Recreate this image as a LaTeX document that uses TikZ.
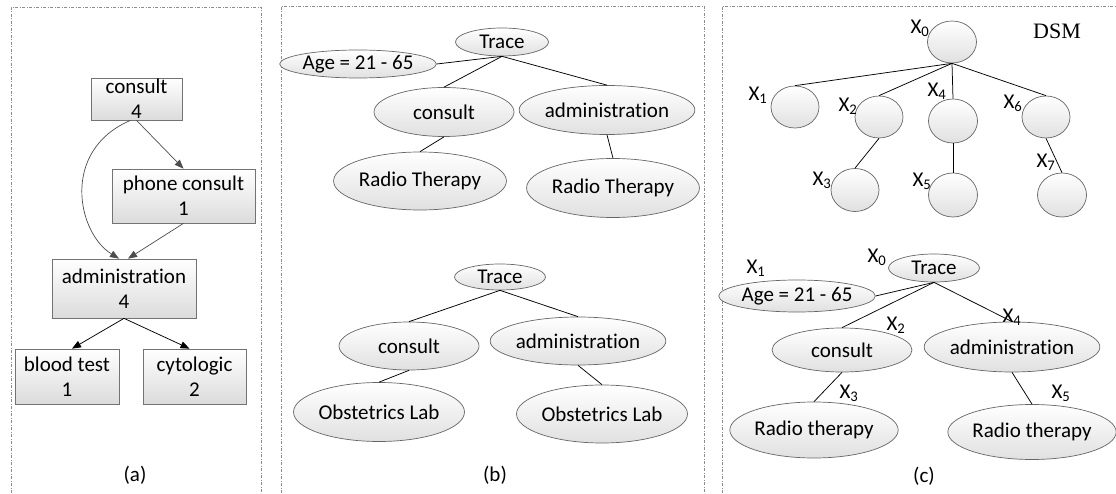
\documentclass[tikz,border=0pt]{standalone}
\usepackage{fontspec}
\setmainfont[Ligatures=CommonOff]{Carlito}
\newfontfamily\dsmfont{Liberation Serif}
\usetikzlibrary{shapes.geometric,arrows.meta,calc}

\tikzset{
  txt/.style={font=\fontsize{21}{25}\selectfont},
  panel/.style={draw=black!45, line width=0.6pt, dash pattern=on 3pt off 1.5pt on 1pt off 1.5pt},
  flowbox/.style={rectangle, draw=black!55, line width=0.7pt, top color=white, bottom color=black!14,
                  align=center, inner sep=0pt, txt},
  oval/.style={ellipse, draw=black!60, line width=0.7pt, top color=white, bottom color=black!12,
               inner sep=0pt, txt},
  link/.style={draw=black, line width=0.75pt},
  grayarrow/.style={draw=black!70, line width=0.7pt, -{Triangle[length=9pt,width=7pt]}, black!70},
  blackarrow/.style={draw=black, line width=0.75pt, -{Triangle[length=9pt,width=7pt]}},
  xlab/.style={font=\fontsize{21}{21}\selectfont, inner sep=0pt},
  caption/.style={font=\fontsize{21}{21}\selectfont, inner sep=0pt}
}

\begin{document}
\begin{tikzpicture}[x=1pt,y=-1pt]
\useasboundingbox (0,0) rectangle (1116,494);
\begin{scope}
\clip (0,0) rectangle (1116,494);
% panel frames
\draw[panel] (11,500) -- (11,7) -- (261,7) -- (261,500);
\draw[panel] (281,500) -- (281,6) -- (704,6) -- (704,500);
\draw[panel] (722,500) -- (722,6) -- (1120,6);
\end{scope}

% ---------------- (a) process graph ----------------
\node[flowbox, minimum width=91pt, minimum height=42pt] (ac) at (136.5,99) {consult\\4};
\node[flowbox, minimum width=143pt, minimum height=54pt] (ap) at (183.5,196) {phone consult\\1};
\node[flowbox, minimum width=144pt, minimum height=59pt] (aa) at (124,288.5) {administration\\4};
\node[flowbox, minimum width=104pt, minimum height=55pt] (ab) at (67,376.5) {blood test\\1};
\node[flowbox, minimum width=103pt, minimum height=55pt] (ay) at (194.5,376.5) {cytologic\\2};

\draw[grayarrow] (ac.south) -- (ap.north);
\draw[grayarrow] ([xshift=-6pt]ac.south) .. controls +(-70,30) and +(-42,-26) .. ([xshift=-5pt]aa.north);
\draw[grayarrow] (ap.south) -- ([xshift=4pt]aa.north);
\draw[blackarrow] (aa.south) -- ([xshift=5pt]ab.north);
\draw[blackarrow] (aa.south) -- ([xshift=-5pt]ay.north);

\node[caption] (capa) at (135,475) {(a)};

% ---------------- (b) upper trace ----------------
\node[oval, minimum width=93pt, minimum height=28pt] (bt) at (502,42) {Trace};
\node[oval, minimum width=153pt, minimum height=28pt] (bage) at (358,64) {Age = 21 - 65};
\node[oval, minimum width=140pt, minimum height=49pt] (bc) at (444,112) {consult};
\node[oval, minimum width=173pt, minimum height=49pt] (bad) at (607,110) {administration};
\node[oval, minimum width=172pt, minimum height=58pt] (br1) at (420,181) {Radio Therapy};
\node[oval, minimum width=168pt, minimum height=59pt] (br2) at (613,188) {Radio Therapy};

\draw[link] (bt.south) -- (bage.east);
\draw[link] (bt.south) -- (bc.north);
\draw[link] (bt.south) -- (bad.north);
\draw[link] (bc.south) -- (br1.north);
\draw[link] (bad.south) -- (br2.north);

% ---------------- (b) lower trace ----------------
\node[oval, minimum width=91pt, minimum height=26pt] (bt2) at (500,277) {Trace};
\node[oval, minimum width=140pt, minimum height=48pt] (bc2) at (409,346) {consult};
\node[oval, minimum width=172pt, minimum height=48pt] (bad2) at (578,341) {administration};
\node[oval, minimum width=158pt, minimum height=59pt] (bo1) at (379,412) {Obstetrics Lab};
\node[oval, minimum width=167pt, minimum height=58pt] (bo2) at (602,414) {Obstetrics Lab};

\draw[link] (bt2.south) -- (bc2.north);
\draw[link] (bt2.south) -- (bad2.north);
\draw[link] (bc2.south) -- (bo1.north);
\draw[link] (bad2.south) -- (bo2.north);

\node[caption] (capb) at (495,475) {(b)};

% ---------------- (c) DSM skeleton ----------------
\node[font=\dsmfont\fontsize{22}{22}\selectfont, inner sep=0pt] (dsm) at (1057,31) {DSM};

\node[oval, minimum width=49pt, minimum height=42pt] (x0) at (952,42) {};
\node[oval, minimum width=48pt, minimum height=42pt] (x1) at (795,107) {};
\node[oval, minimum width=48pt, minimum height=42pt] (x2) at (879,117) {};
\node[oval, minimum width=49pt, minimum height=44pt] (x4) at (953,121) {};
\node[oval, minimum width=48pt, minimum height=42pt] (x6) at (1046,117) {};
\node[oval, minimum width=48pt, minimum height=43pt] (x3) at (855,190) {};
\node[oval, minimum width=49pt, minimum height=44pt] (x5) at (953,195) {};
\node[oval, minimum width=49pt, minimum height=44pt] (x7) at (1062,195) {};

\draw[link] (x0.south) -- (x1.north);
\draw[link] (x0.south) -- (x2.north);
\draw[link] (x0.south) -- (x4.north);
\draw[link] (x0.south) -- (x6.north);
\draw[link] (x2.south) -- (x3.north);
\draw[link] (x4.south) -- (x5.north);
\draw[link] (x6.south) -- (x7.north);

\node[xlab] (lx0) at (920,28) {X\textsubscript{0}};
\node[xlab] (lx1) at (758,95) {X\textsubscript{1}};
\node[xlab] (lx2) at (848,106) {X\textsubscript{2}};
\node[xlab] (lx4) at (937,91) {X\textsubscript{4}};
\node[xlab] (lx6) at (1013,103) {X\textsubscript{6}};
\node[xlab] (lx3) at (822,180) {X\textsubscript{3}};
\node[xlab] (lx5) at (922,181) {X\textsubscript{5}};
\node[xlab] (lx7) at (1046,162) {X\textsubscript{7}};

% ---------------- (c) labelled trace ----------------
\node[oval, minimum width=91pt, minimum height=28pt] (ct) at (934,268) {Trace};
\node[oval, minimum width=152pt, minimum height=32pt] (cage) at (797,296) {Age = 21 - 65};
\node[oval, minimum width=140pt, minimum height=44pt] (cc) at (842,350) {consult};
\node[oval, minimum width=172pt, minimum height=50pt] (cad) at (1012,347) {administration};
\node[oval, minimum width=162pt, minimum height=56pt] (cr1) at (814,430) {Radio therapy};
\node[oval, minimum width=159pt, minimum height=55pt] (cr2) at (1032,432) {Radio therapy};

\draw[link] (ct.south) -- (cage.east);
\draw[link] (ct.south) -- (cc.north);
\draw[link] (ct.south) -- (cad.north);
\draw[link] (cc.south) -- (cr1.north);
\draw[link] (cad.south) -- (cr2.north);

\node[xlab] (cx0) at (877,257) {X\textsubscript{0}};
\node[xlab] (cx1) at (756,268) {X\textsubscript{1}};
\node[xlab] (cx2) at (896,325) {X\textsubscript{2}};
\node[xlab] (cx4) at (1012,317) {X\textsubscript{4}};
\node[xlab] (cx3) at (849,393) {X\textsubscript{3}};
\node[xlab] (cx5) at (1061,393) {X\textsubscript{5}};

\node[caption] (capc) at (924,476) {(c)};
\end{tikzpicture}
\end{document}
